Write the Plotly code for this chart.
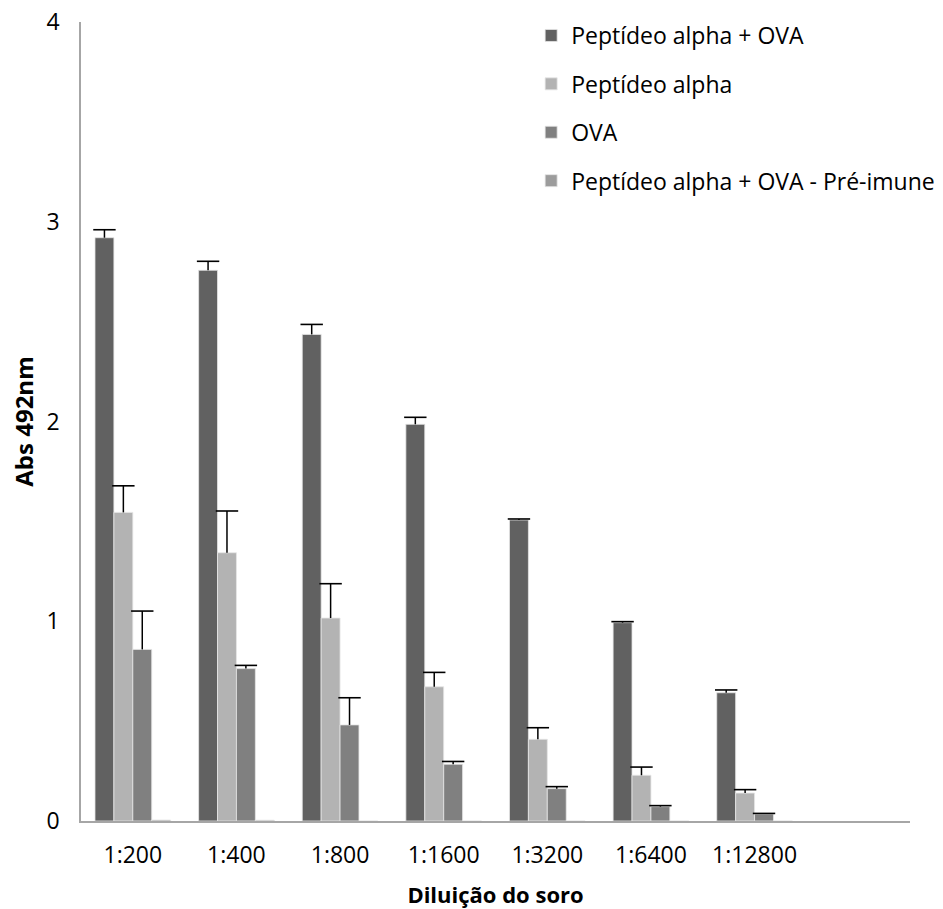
import plotly.graph_objects as go

categories = ["1:200", "1:400", "1:800", "1:1600", "1:3200", "1:6400", "1:12800"]
series_names = ["Peptídeo alpha + OVA", "Peptídeo alpha", "OVA", "Peptídeo alpha + OVA - Pré-imune"]

pep_ova = [2.92, 2.757, 2.436, 1.986, 1.507, 0.993, 0.642]
pep_ova_err = [0.04, 0.045, 0.05, 0.035, 0.005, 0.005, 0.014]

pep = [1.545, 1.343, 1.016, 0.672, 0.409, 0.229, 0.140]
pep_err = [0.133, 0.209, 0.172, 0.072, 0.058, 0.041, 0.017]

ova = [0.859, 0.763, 0.481, 0.284, 0.162, 0.072, 0.035]
ova_err = [0.192, 0.016, 0.136, 0.014, 0.010, 0.005, 0.003]

pre = [0.005, 0.004, 0.0, 0.0, 0.0, 0.0, 0.0]
pre_err = [0, 0, 0, 0, 0, 0, 0]

y_ticks = [0, 1, 2, 3, 4]

colors = ["#616161", "#b3b3b3", "#808080", "#9c9c9c"]
values = [pep_ova, pep, ova, pre]
errors = [pep_ova_err, pep_err, ova_err, pre_err]
has_err = [True, True, True, False]

FONT = "Open Sans"

fig = go.Figure()
for i, (name, vals, err, col, he) in enumerate(zip(series_names, values, errors, colors, has_err)):
    kw = {}
    if he:
        kw["error_y"] = dict(type="data", array=err, arrayminus=[0] * len(err),
                             symmetric=False, color="black", thickness=1.5, width=0)
    fig.add_trace(go.Bar(
        x=categories, y=vals, name=name, legendgroup=f"g{i}", offsetgroup=str(i),
        marker=dict(color=col, line=dict(color="#e6e6e6", width=0.8)),
        **kw,
    ))

# error-bar caps (only the upper cap, as in the reference)
for i, (vals, err, he) in enumerate(zip(values, errors, has_err)):
    tops = [v + e for v, e in zip(vals, err)]
    fig.add_trace(go.Scatter(
        x=categories, y=tops, mode="markers", offsetgroup=str(i),
        marker=dict(symbol="line-ew", size=16, color="black",
                    opacity=1 if he else 0,
                    line=dict(color="black", width=1.6 if he else 0)),
        showlegend=False, hoverinfo="skip", legendgroup=f"g{i}",
    ))

fig.update_layout(
    width=943, height=909,
    margin=dict(l=81, r=33, t=22, b=88, autoexpand=False),
    paper_bgcolor="white", plot_bgcolor="white",
    barmode="group", bargap=0.27, bargroupgap=0,
    scattermode="group", scattergap=0.27,
    font=dict(family=FONT, size=22, color="black"),
    showlegend=True,
    legend=dict(x=0.543, y=1.01, xanchor="left", yanchor="top",
                font=dict(family=FONT, size=23, color="black"),
                tracegroupgap=15.5, itemwidth=30, bgcolor="rgba(0,0,0,0)"),
    xaxis=dict(
        type="category", categoryorder="array", categoryarray=categories,
        range=[-0.5, 7.5], showgrid=False, zeroline=False, automargin=False,
        showline=True, linecolor="#a6a6a6", linewidth=1.5,
        ticks="", ticklabelstandoff=13, tickangle=0,
        tickfont=dict(family=FONT, size=23),
        title=dict(text="<b>Diluição do soro</b>", font=dict(family=FONT, size=22), standoff=24),
    ),
    yaxis=dict(
        range=[0, 4], tickvals=y_ticks, showgrid=False, zeroline=False, automargin=False,
        showline=True, linecolor="#a6a6a6", linewidth=1.5,
        ticks="", ticklabelstandoff=15,
        tickfont=dict(family=FONT, size=23),
        title=dict(text="<b>Abs 492nm</b>", font=dict(family=FONT, size=24), standoff=6),
    ),
)

fig.write_html("out.html")
